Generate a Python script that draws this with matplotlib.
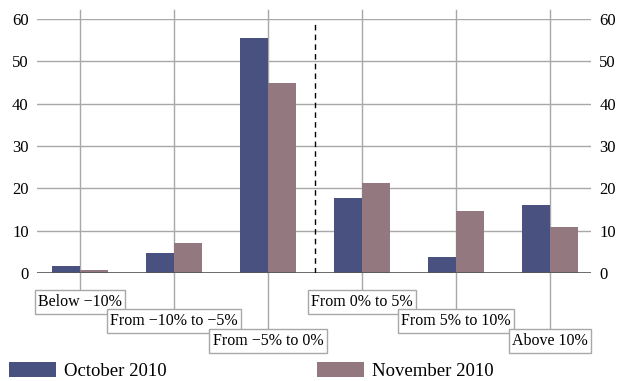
import matplotlib
matplotlib.use("Agg")
import matplotlib.pyplot as plt
import numpy as np

plt.rcParams['font.family'] = ['Liberation Serif', 'DejaVu Serif']

categories = ["Below \u221210%", "From \u221210% to \u22125%", "From \u22125% to 0%",
              "From 0% to 5%", "From 5% to 10%", "Above 10%"]
october = [1.7, 4.7, 55.5, 17.7, 3.8, 16.1]
november = [0.7, 7.1, 44.9, 21.3, 14.6, 10.9]
series_names = ["October 2010", "November 2010"]

c_oct = "#485180"
c_nov = "#937880"
grid_c = "#a8a8a8"

fig = plt.figure(figsize=(6.24, 3.81), dpi=100)
ax = fig.add_axes([37/624, 1-273/381, (591-37)/624, (273-19)/381])

x = np.arange(len(categories))
w = 0.3
b1 = ax.bar(x - w/2, october, w, color=c_oct, zorder=3)
b2 = ax.bar(x + w/2, november, w, color=c_nov, zorder=3)

ax.set_xlim(-0.457, 5.436)
ax.set_ylim(0, 60)
ax.set_yticks(range(0, 61, 10))
ax.yaxis.grid(True, color=grid_c, lw=1, zorder=0)
ax.axhline(0, color="#555555", lw=1.2, zorder=4)
for s in ax.spines.values():
    s.set_visible(False)
ax.set_xticks([])
ax.tick_params(axis='y', length=0, labelsize=12, labelright=True, pad=6)

# dashed separator between negative and positive bins
ax.plot([2.5, 2.5], [0, 59.5], color="black", ls=(0, (4, 3)), lw=1, zorder=5)

# category lines and staggered labels
px = 60/254.0
levels = [0, 1, 2, 0, 1, 2]
tops = [(273-293)*px, (273-312)*px, (273-332)*px]
for i, lab in enumerate(categories):
    top = tops[levels[i]]
    ax.plot([i, i], [(273-10)*px, top], color=grid_c, lw=1, zorder=2, clip_on=False)
    ax.plot([i], [top], 'o', color=grid_c, ms=3, zorder=2, clip_on=False)
    ax.text(i, top - 9*px, lab, ha='center', va='center', fontsize=11.5,
            bbox=dict(boxstyle='square,pad=0.22', fc='white', ec=grid_c, lw=1),
            zorder=6, clip_on=False)

fig.legend([b1, b2], series_names, loc='lower left', bbox_to_anchor=(8/624, 0.0),
           ncol=2, frameon=False, fontsize=13.5, handlelength=2.5, handleheight=0.85,
           handletextpad=0.45, columnspacing=8.0, borderpad=0, borderaxespad=0.05)

fig.savefig("out.png", dpi=100)
